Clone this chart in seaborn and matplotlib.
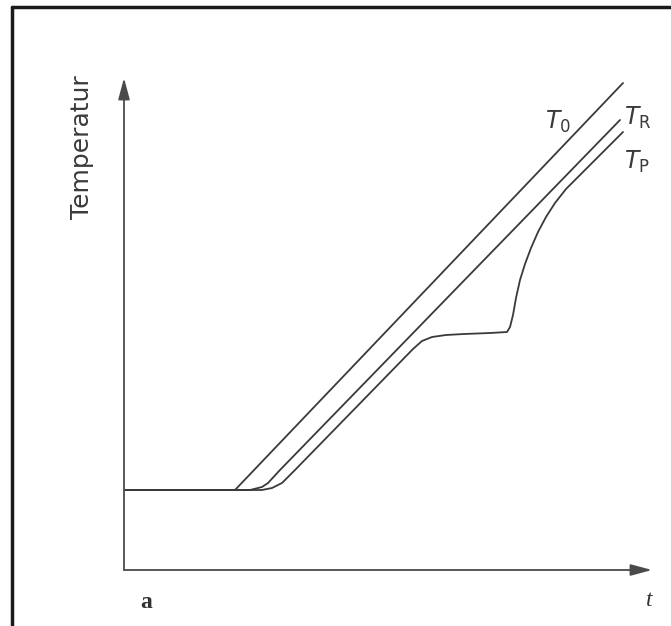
import pandas as pd
import numpy as np
import seaborn as sns
import matplotlib.pyplot as plt
from matplotlib.lines import Line2D

# Daten (Zeit t, Temperatur) in willkuerlichen Einheiten
t_T0 = [0, 111, 499]
T_T0 = [80, 80, 487]

t_TR = [0, 126, 138, 144, 156, 496]
T_TR = [80, 80, 83, 87, 100, 450]

t_TP = [0, 138, 148, 158, 171, 289, 298, 308, 322, 340, 366, 383, 386,
        389, 392, 396, 401, 407, 414, 422, 431, 442, 456, 499]
T_TP = [80, 80, 82, 87, 100, 221, 229, 233, 235, 236, 237, 238, 243,
        255, 272, 290, 306, 322, 338, 353, 367, 381, 395, 438]

kurven = ["T0", "TR", "TP"]

df = pd.concat([
    pd.DataFrame({"t": t_T0, "T": T_T0, "kurve": "T0"}),
    pd.DataFrame({"t": t_TR, "T": T_TR, "kurve": "TR"}),
    pd.DataFrame({"t": t_TP, "T": T_TP, "kurve": "TP"}),
], ignore_index=True)

sns.set_style("white")
plt.rcParams['font.family'] = ['DejaVu Sans']

W, H = 671, 626
fig = plt.figure(figsize=(W / 100, H / 100), dpi=100)
fig.patch.set_facecolor("white")

# Achsenbereich: Ursprung bei (124, 570) px, Pfeilspitzen bei x=652 / y=78
ax = fig.add_axes([124 / W, (H - 570) / H, (652 - 124) / W, (570 - 78) / H])
sns.lineplot(data=df, x="t", y="T", hue="kurve", estimator=None, sort=False,
             palette=["#3a3a3a"] * 3, hue_order=kurven,
             linewidth=1.3, legend=False, ax=ax)

ax.set_xlim(0, 528)
ax.set_ylim(0, 492)
ax.set_xticks([])
ax.set_yticks([])
ax.set_xlabel("")
ax.set_ylabel("")
for s in ["top", "right", "left", "bottom"]:
    ax.spines[s].set_visible(False)

# Achsen mit Pfeilen
pfeil = dict(arrowstyle="-|>,head_length=1.3,head_width=0.35", color="#4a4a4a",
             lw=1.3, shrinkA=0, shrinkB=0)
ax.annotate("", xy=(1, 0), xytext=(0, 0), xycoords="axes fraction",
            textcoords="axes fraction", arrowprops=pfeil, annotation_clip=False)
ax.annotate("", xy=(0, 1), xytext=(0, 0), xycoords="axes fraction",
            textcoords="axes fraction", arrowprops=pfeil, annotation_clip=False)

# Beschriftungen
fig.text(82 / W, 1 - 147 / H, "Temperatur", rotation=90, ha="center", va="center",
         fontsize=18, color="#3a3a3a")
fig.text(558 / W, 1 - 122 / H, r"$T_{\mathrm{0}}$", ha="center", va="center",
         fontsize=17, color="#3a3a3a")
fig.text(638 / W, 1 - 118 / H, r"$T_{\mathrm{R}}$", ha="center", va="center",
         fontsize=17, color="#3a3a3a")
fig.text(637 / W, 1 - 162 / H, r"$T_{\mathrm{P}}$", ha="center", va="center",
         fontsize=17, color="#3a3a3a")
fig.text(146 / W, 1 - 603 / H, "a", ha="center", va="center", fontsize=17,
         fontweight="bold", family="Liberation Serif", color="#333333")
fig.text(649 / W, 1 - 600 / H, "t", ha="center", va="center", fontsize=17,
         style="italic", family="Liberation Serif", color="#333333")

# Rahmen (nur oben und links sichtbar)
fig.add_artist(Line2D([12 / W, 1], [1 - 7 / H, 1 - 7 / H], color="#1a1a1a", lw=2.5))
fig.add_artist(Line2D([12 / W, 12 / W], [0, 1 - 7 / H], color="#1a1a1a", lw=2.5))

fig.savefig("out.png", dpi=100)
